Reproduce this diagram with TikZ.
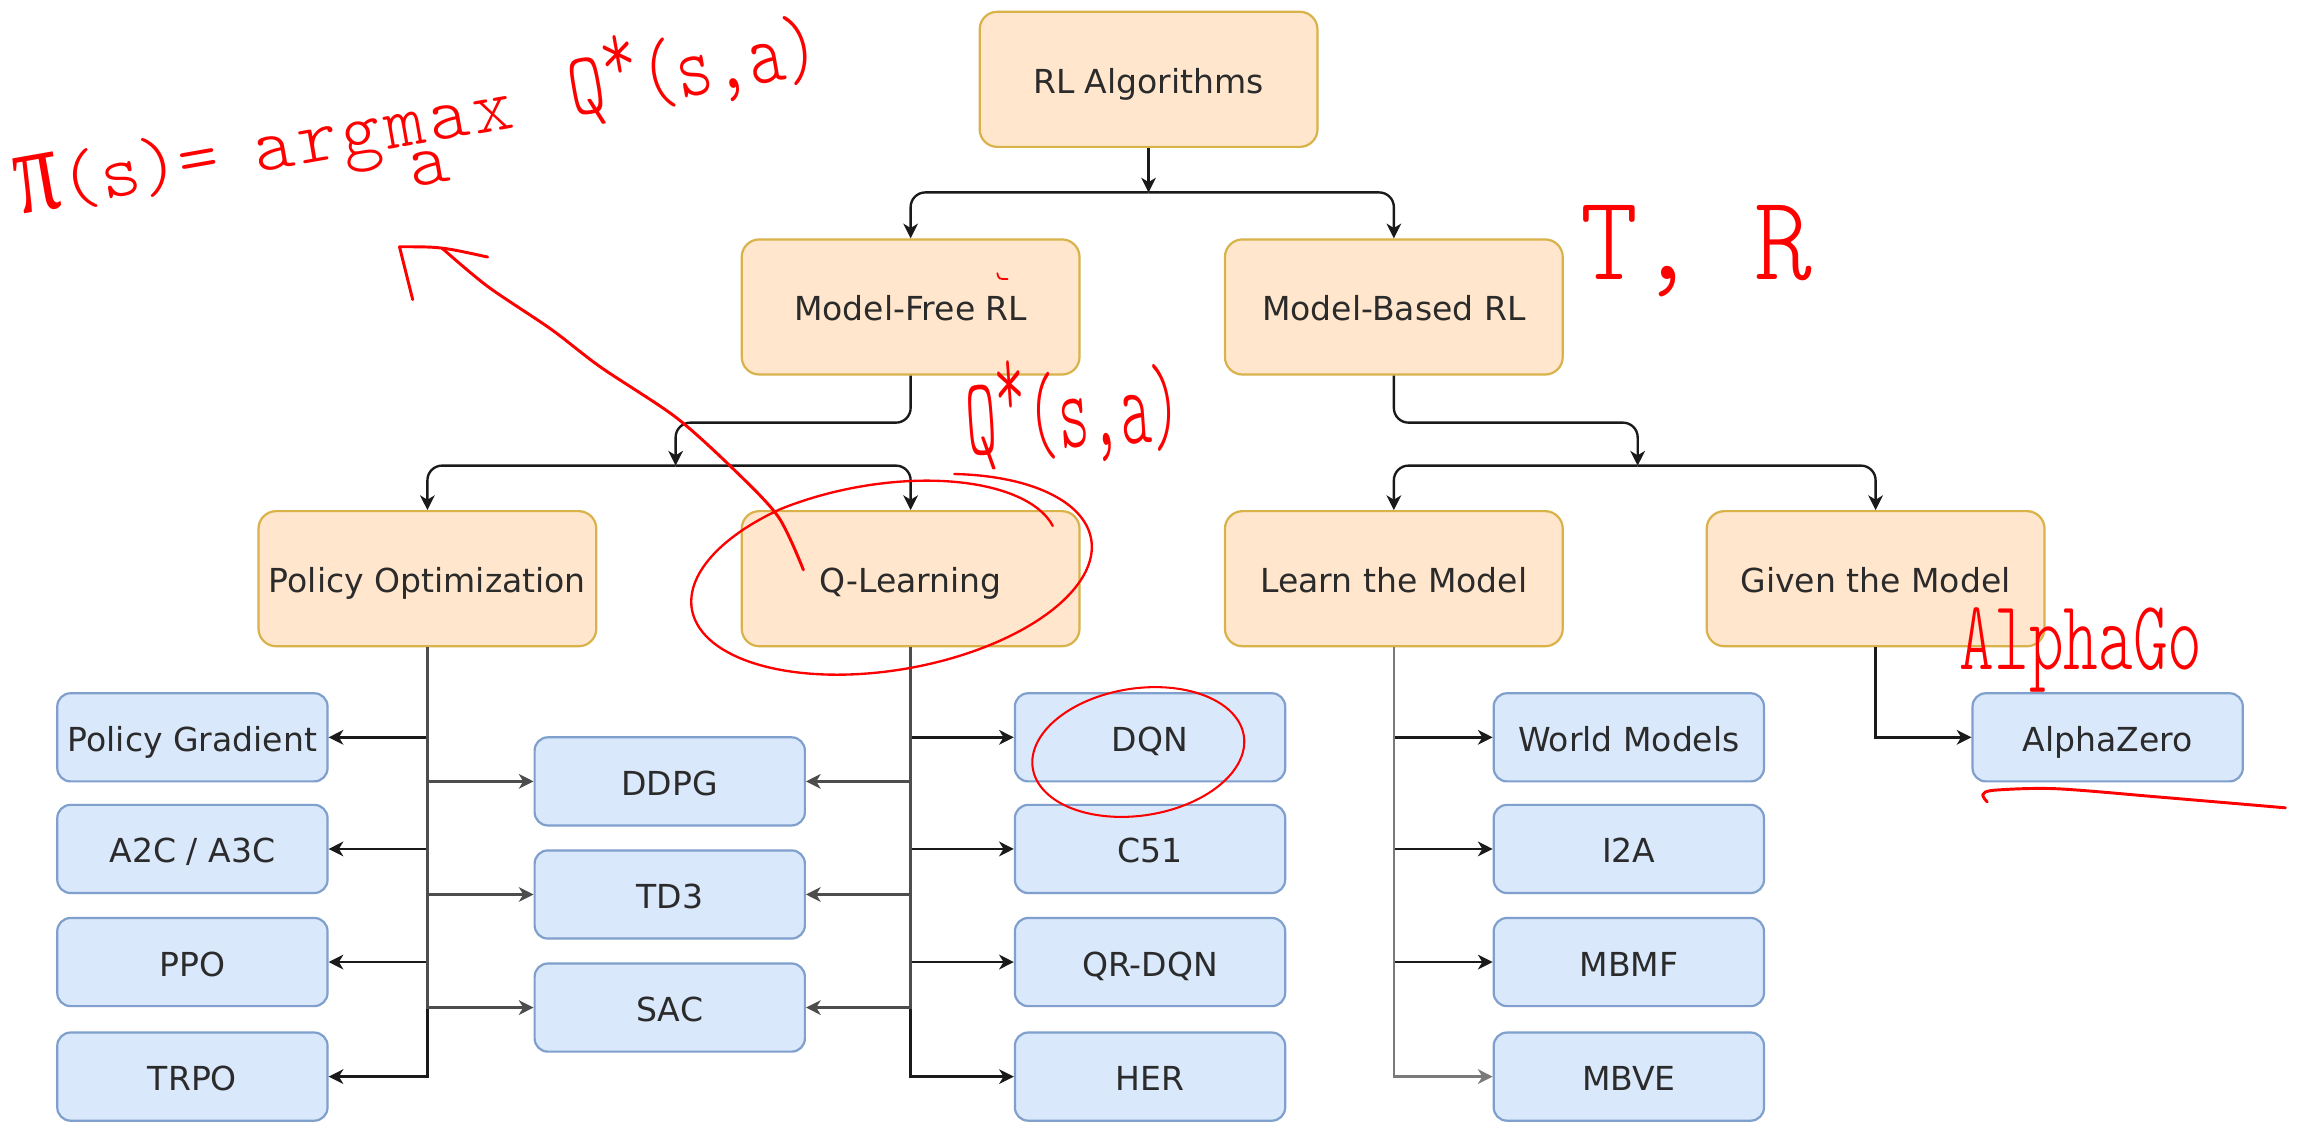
\documentclass[tikz,border=0pt]{standalone}
\usepackage{fontspec}
\setmainfont{DejaVu Sans}
\newfontfamily\handfont{lmmonolt10-regular.otf}
\newfontfamily\greekhand{Liberation Serif}
\usetikzlibrary{arrows.meta}
\definecolor{ofill}{HTML}{FFE6CC}
\definecolor{odraw}{HTML}{D9B24A}
\definecolor{bfill}{HTML}{DAE8FC}
\definecolor{bdraw}{HTML}{7F9FCC}
\definecolor{txt}{HTML}{2B2B2B}
\definecolor{lnk}{HTML}{1A1A1A}
\definecolor{lnkg}{HTML}{4D4D4D}
\definecolor{lnkl}{HTML}{7A7A7A}
\definecolor{handred}{HTML}{FF0000}
\begin{document}
\begin{tikzpicture}[x=1pt,y=-1pt,
  obox/.style={draw=odraw, fill=ofill, line width=1.5pt, rounded corners=12pt,
    minimum width=230pt, minimum height=92pt, inner sep=0pt, text=txt,
    text height=19pt, text depth=0pt,
    font=\fontsize{22.5}{27}\selectfont},
  bbox/.style={draw=bdraw, fill=bfill, line width=1.5pt, rounded corners=9pt,
    minimum width=184pt, minimum height=60pt, inner sep=0pt, text=txt,
    text height=19pt, text depth=0pt,
    font=\fontsize{22.5}{27}\selectfont},
  conn/.style={draw=lnk, line width=1.6pt, -{Stealth[length=10pt,width=10pt,inset=3pt]}},
  conng/.style={conn, draw=lnkg},
  connl/.style={conn, draw=lnkl},
  elbow/.style={conn, rounded corners=10pt},
  redpen/.style={draw=handred, line width=2pt, line cap=round, line join=round},
  redtext/.style={text=handred, inner sep=0pt}
]
\fill[white] (0,0) rectangle (1568,764);
\useasboundingbox (0,0) rectangle (1568,764);

% orange category boxes
\node[obox] (rl) at (782,54) {RL Algorithms};
\node[obox] (mf) at (620,209) {Model-Free RL};
\node[obox] (mb) at (949,209) {Model-Based RL};
\node[obox] (po) at (291,394) {Policy Optimization};
\node[obox] (ql) at (620,394) {Q-Learning};
\node[obox] (lm) at (949,394) {Learn the Model};
\node[obox] (gm) at (1277,394) {Given the Model};

% blue algorithm boxes
\node[bbox] (pg)   at (131,502) {Policy Gradient};
\node[bbox] (a2c)  at (131,578) {A2C / A3C};
\node[bbox] (ppo)  at (131,655) {PPO};
\node[bbox] (trpo) at (131,733) {TRPO};
\node[bbox] (ddpg) at (456,532) {DDPG};
\node[bbox] (td3)  at (456,609) {TD3};
\node[bbox] (sac)  at (456,686) {SAC};
\node[bbox] (dqn)  at (783,502) {DQN};
\node[bbox] (c51)  at (783,578) {C51};
\node[bbox] (qrdqn) at (783,655) {QR-DQN};
\node[bbox] (her)  at (783,733) {HER};
\node[bbox] (wm)   at (1109,502) {World Models};
\node[bbox] (i2a)  at (1109,578) {I2A};
\node[bbox] (mbmf) at (1109,655) {MBMF};
\node[bbox] (mbve) at (1109,733) {MBVE};
\node[bbox] (az)   at (1435,502) {AlphaZero};

% junctions
\coordinate (j1) at (782,131);
\coordinate (j2) at (460,317);
\coordinate (j3) at (1115,317);

\draw[conn] (rl.south) -- (j1);
\draw[elbow] (j1) -| (mf.north);
\draw[elbow] (j1) -| (mb.north);

\draw[elbow] (mf.south) -- ++(0,32) -| (j2);
\draw[elbow] (j2) -| (po.north);
\draw[elbow] (j2) -| (ql.north);

\draw[elbow] (mb.south) -- ++(0,32) -| (j3);
\draw[elbow] (j3) -| (lm.north);
\draw[elbow] (j3) -| (gm.north);

\foreach \n in {pg,a2c,ppo,trpo} \draw[conn] (po.south) |- (\n.east);
\foreach \n in {ddpg,td3,sac} \draw[conng] (po.south) |- (\n.west);
\foreach \n in {dqn,c51,qrdqn,her} \draw[conn] (ql.south) |- (\n.west);
\foreach \n in {ddpg,td3,sac} \draw[conng] (ql.south) |- (\n.east);
\foreach \n in {wm,i2a,mbmf} \draw[conn] (lm.south) |- (\n.west);
\draw[connl] (lm.south) |- (mbve.west);
\draw[conn] (gm.south) |- (az.west);

% handwritten annotations
\node[redtext, anchor=base west, rotate=10, font=\handfont\fontsize{52}{60}\selectfont] (formula) at (14,146)
  {{\greekhand\scalebox{1.15}[1.6]{π}}(s)=\hspace{24pt}\begin{tabular}[t]{@{}c@{}}a\kern3pt r\kern3pt g\kern3pt m\kern3pt a\kern3pt x\\[-32pt]\hspace*{54pt}a\end{tabular}\hspace{40pt}{\fontsize{47}{50}\selectfont\scalebox{1}[1.3]{Q\raisebox{0.3em}{*}(s,a)}}};
\node[redtext, anchor=base west, font=\handfont\fontsize{75}{80}\selectfont] (tr) at (1076,190)
  {\scalebox{1}[1.1]{T, R}};
\node[redtext, anchor=base west, rotate=4, font=\handfont\fontsize{40}{48}\selectfont] (qsa) at (659,310)
  {\scalebox{1}[1.9]{Q\raisebox{0.3em}{*}(s,a)}};
\node[redtext, anchor=base west, font=\handfont\fontsize{45}{50}\selectfont] (ago) at (1334,456)
  {\scalebox{1}[1.5]{AlphaGo}};

% arrow from Q-Learning to the formula
\draw[redpen] plot[smooth] coordinates {(547,388) (530,352) (500,320) (460,284) (409,250) (375,224) (332,195) (301,169)};
\draw[redpen] (281,204) .. controls (276,186) .. (272,168) .. controls (300,168) .. (332,175);

% loop round Q-Learning
\draw[redpen, line width=1.6pt] plot[domain=14:427, samples=150, smooth, variable=\t]
  ({607 + min(1,0.85+(\t-14)/700)*(135.9*cos(\t) - 11.3*sin(\t))},
   {391 - min(1,0.85+(\t-14)/700)*(24*cos(\t) + 64*sin(\t))});
% loop round DQN
\draw[redpen, line width=1.4pt] plot[domain=50:430, samples=120, smooth, variable=\t]
  ({775 + 72*cos(\t) + 5*sin(\t)}, {512 - 44*sin(\t) - 4*cos(\t)});
% underline of AlphaZero
\draw[redpen] plot[smooth] coordinates {(1353,546) (1350,541) (1358,538) (1400,537) (1474,543) (1556,550)};
% small mark in Model-Free RL
\draw[redpen, line width=1.2pt] (679,186) .. controls (680,190) .. (686,190);
\end{tikzpicture}
\end{document}
